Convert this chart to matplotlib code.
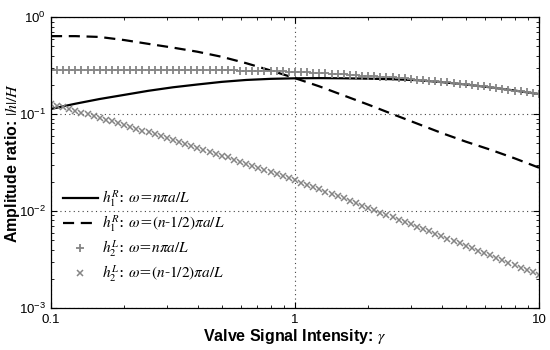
import numpy as np
import matplotlib
matplotlib.use("Agg")
import matplotlib.pyplot as plt
from matplotlib.ticker import FixedLocator, FixedFormatter, LogLocator, NullFormatter

plt.rcParams['font.family'] = ['Liberation Sans', 'DejaVu Sans']
plt.rcParams['mathtext.fontset'] = 'stix'

# coarse grid for the line series (0.1 decade steps)
gamma_line = [0.1, 0.126, 0.158, 0.2, 0.251, 0.316, 0.398, 0.501, 0.631, 0.794,
              1.0, 1.26, 1.58, 2.0, 2.51, 3.16, 3.98, 5.01, 6.31, 7.94, 10.0]
h1R_n = [0.113, 0.128, 0.143, 0.158, 0.174, 0.189, 0.202, 0.215, 0.225, 0.231,
         0.234, 0.235, 0.234, 0.232, 0.229, 0.224, 0.214, 0.202, 0.189, 0.175, 0.161]
h1R_half = [0.637, 0.637, 0.625, 0.580, 0.530, 0.485, 0.440, 0.390, 0.335, 0.282,
            0.235, 0.193, 0.156, 0.125, 0.100, 0.080, 0.064, 0.052, 0.043, 0.035, 0.028]

# dense sample grid for the marker series (81 log-spaced samples)
gamma_mark = np.logspace(-1, 1, 81)
h2L_n = [0.285] * 11 + [0.284] * 10 + [
    0.284, 0.284, 0.284, 0.283, 0.283, 0.283, 0.283, 0.282, 0.282, 0.282,
    0.281, 0.281, 0.280, 0.279, 0.279, 0.278, 0.277, 0.276, 0.275, 0.273,
    0.271, 0.269, 0.267, 0.265, 0.263, 0.261, 0.259, 0.257,
    0.255, 0.252, 0.250, 0.248, 0.246, 0.243, 0.241, 0.239,
    0.236, 0.233, 0.230, 0.227, 0.224, 0.221, 0.218, 0.215,
    0.212, 0.209, 0.206, 0.203, 0.200, 0.196, 0.193, 0.190,
    0.186, 0.183, 0.179, 0.175, 0.172, 0.168, 0.165, 0.161]
h2L_half = [
    0.1274, 0.1222, 0.1172, 0.1125, 0.1079, 0.1035, 0.0993, 0.0953, 0.0914, 0.0877,
    0.0841, 0.0805, 0.0771, 0.0738, 0.0706, 0.0676, 0.0647, 0.0619, 0.0593, 0.0568,
    0.0543, 0.0519, 0.0494, 0.0472, 0.0451, 0.0431, 0.0410, 0.0392, 0.0374, 0.0357,
    0.0340, 0.0324, 0.0308, 0.0293, 0.0279, 0.0265, 0.0252, 0.0240, 0.0228, 0.0217,
    0.0207, 0.0196, 0.0185, 0.0176, 0.0167, 0.0158, 0.0150, 0.0142, 0.0135, 0.0128,
    0.0121, 0.0114, 0.0108, 0.0102, 0.00966, 0.00914, 0.00865, 0.00817, 0.00773, 0.00731,
    0.00692, 0.00653, 0.00617, 0.00583, 0.00551, 0.00520, 0.00491, 0.00465, 0.00439, 0.00414,
    0.00391, 0.00369, 0.00348, 0.00329, 0.00310, 0.00293, 0.00277, 0.00261, 0.00247, 0.00233,
    0.00220]

labels = [r'$h_1^R$: $\omega$=$n\pi a/L$',
          r'$h_1^R$: $\omega$=$(n$-$1/2)\pi a/L$',
          r'$h_2^L$: $\omega$=$n\pi a/L$',
          r'$h_2^L$: $\omega$=$(n$-$1/2)\pi a/L$']
xticks = [0.1, 1, 10]
xticklabels = ['0.1', '1', '10']

fig = plt.figure(figsize=(5.5, 3.5), dpi=100)
ax = fig.add_axes([0.0927, 0.12, 0.8873, 0.831])

gray = '#858585'
ax.plot(gamma_line, h1R_n, color='black', lw=1.6, label=labels[0])
ax.plot(gamma_line, h1R_half, color='black', lw=1.6, ls=(0, (5, 3)), label=labels[1])
ax.plot(gamma_mark, h2L_n, ls='none', marker='+', ms=5.5, mew=1.3, color=gray, label=labels[2])
ax.plot(gamma_mark, h2L_half, ls='none', marker='x', ms=3.8, mew=1.1, color=gray, label=labels[3])

ax.set_xscale('log')
ax.set_yscale('log')
ax.set_xlim(0.1, 10)
ax.set_ylim(1e-3, 1)

ax.xaxis.set_major_locator(FixedLocator(xticks))
ax.xaxis.set_major_formatter(FixedFormatter(xticklabels))
ax.xaxis.set_minor_locator(LogLocator(base=10, subs=np.arange(2, 10)))
ax.xaxis.set_minor_formatter(NullFormatter())
ax.yaxis.set_minor_locator(LogLocator(base=10, subs=np.arange(2, 10)))
ax.yaxis.set_minor_formatter(NullFormatter())

ax.tick_params(which='both', direction='in', top=True, right=True, labelsize=9.5)
ax.tick_params(which='major', length=4, width=0.8)
ax.tick_params(axis='x', which='major', pad=4.5)
ax.tick_params(which='minor', length=2.5, width=0.6)
ax.grid(True, which='major', ls=(0, (1, 3)), color='#444444', lw=0.8)

for s in ax.spines.values():
    s.set_linewidth(0.9)

ax.set_xlabel(r'Valve Signal Intensity: $\gamma$', fontsize=11.5, fontweight='bold')
ax.set_ylabel(r'Amplitude ratio: $|h|/H$', fontsize=11.5, fontweight='bold')
ax.xaxis.set_label_coords(0.5, -0.064)
ax.yaxis.set_label_coords(-0.06, 0.5)

leg = ax.legend(loc='lower left', bbox_to_anchor=(0.005, 0.05), frameon=False,
                fontsize=11, handlelength=2.3, handletextpad=0.3, labelspacing=0.28,
                borderaxespad=0.2)
for t in leg.get_texts():
    t.set_fontfamily('serif')

fig.savefig('out.png', dpi=100)
